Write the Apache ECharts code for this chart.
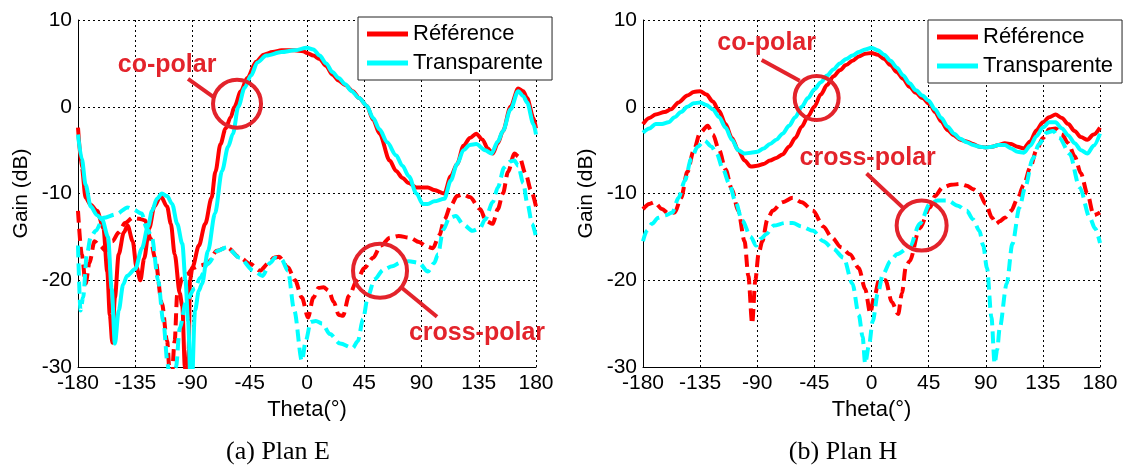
<!DOCTYPE html>
<html><head><meta charset="utf-8">
<script src="https://cdn.jsdelivr.net/npm/echarts@6/dist/echarts.min.js"></script>
<style>html,body{margin:0;padding:0;background:#fff}#c{width:1127px;height:472px}</style>
</head><body><div id="c"></div>
<script>
// ---------- DATA (theta in degrees, gain in dB) ----------
const LEGEND_NAMES = ['Référence', 'Transparente'];
const CAPTIONS = ['(a) Plan E', '(b) Plan H'];
const ANNOT_TEXT = ['co-polar', 'cross-polar'];

// Plan E, co-polar
const E_REF_CO = [[-180,-2.4],[-177,-7],[-174,-10.5],[-170,-11.3],[-165,-12],[-160,-14],[-157,-19],[-155,-24],[-153,-27.2],[-151,-22],[-148,-17],[-144,-14.5],[-141,-13.7],[-137,-15.5],[-134,-18.5],[-131,-20],[-128,-17.5],[-124,-14],[-120,-11.5],[-115,-10.3],[-110,-11.5],[-107,-13.5],[-104,-17],[-100,-21.5],[-98,-23],[-96,-30],[-94.5,-35],[-93,-28],[-92,-20],[-90,-18.5],[-85,-16],[-80,-13.5],[-75,-10.5],[-72,-7.5],[-68,-4.3],[-64,-2.5],[-60,-1.2],[-57,0],[-52,1.8],[-47,3.3],[-40,5.2],[-34,6],[-27,6.3],[-20,6.5],[-10,6.5],[-3,6.4],[0,6.2],[5,5.9],[10,5.5],[15,4.7],[20,3.7],[25,3.0],[30,2.5],[36,1.8],[41,1.0],[47,0.1],[52,-1.5],[57,-3.1],[65,-6.2],[70,-7.4],[75,-8.2],[80,-8.8],[86,-9.3],[95,-9.3],[100,-9.6],[108,-10],[113,-8],[118,-6.6],[123,-4.5],[128,-3.6],[133,-3.1],[138,-3.8],[142,-4.8],[146,-5.4],[150,-4.2],[154,-2.8],[160,0],[166,2.1],[170,1.8],[173,1],[178,-1.3],[180,-2.5]];
const E_TR_CO = [[-180,-3.2],[-177,-6],[-174,-9],[-170,-11.5],[-165,-12.5],[-161,-13],[-156.4,-15],[-153.5,-21],[-151,-27.3],[-148,-23.5],[-144.5,-20.5],[-141.5,-19.5],[-135,-18.7],[-129.7,-16.3],[-125,-13.8],[-121.8,-12],[-118,-10.6],[-114,-10],[-110,-10.3],[-106,-11.2],[-102,-13.5],[-98,-15.8],[-95.5,-20],[-93.5,-24.7],[-91,-34],[-88,-23.5],[-85,-21.2],[-82.5,-20.4],[-77.8,-16.6],[-72.3,-12.3],[-66.8,-7.4],[-62,-4.6],[-58.2,-3.1],[-54,0],[-49,2.2],[-44,3.6],[-39,5.1],[-32,5.9],[-20,6.3],[-10,6.5],[0,6.8],[5,6.6],[10,5.9],[15,5.0],[20,4.0],[25,3.3],[30,2.6],[35,1.8],[41,1.0],[47,0.1],[52,-1.3],[57,-2.6],[63,-4.1],[70,-5.6],[75,-6.8],[80,-8],[86,-10],[91,-11.2],[95,-11.2],[100,-10.9],[108,-10.6],[113,-8.5],[118,-6.6],[123,-5],[128,-4.4],[133,-4.3],[140,-5],[145,-5.4],[150,-4],[154,-2.8],[160,-0.3],[166,1.8],[170,1.2],[173,0.5],[178,-2],[180,-3.2]];
// Plan E, cross-polar
const E_REF_X = [[-180,-12],[-177,-17],[-174,-20.4],[-171,-18],[-167,-15.5],[-163,-16],[-158,-16.6],[-153,-15.5],[-148,-14.5],[-143,-13.4],[-137,-12.8],[-132,-12.9],[-127.3,-13.1],[-123,-15.2],[-119.5,-17.4],[-114,-22.7],[-110,-27],[-107,-33],[-104,-27],[-102,-21.6],[-98,-19.8],[-94,-19.3],[-89.6,-18.6],[-84,-18.3],[-78.6,-18.1],[-70.7,-16.6],[-62.9,-16.2],[-52.7,-17.4],[-44.8,-18.1],[-36.9,-18.9],[-30,-18],[-26,-17.4],[-22,-17.3],[-15,-18.5],[-9.4,-20],[-4,-22],[0.8,-24.3],[5,-22],[9,-20.9],[13,-20.8],[17,-21.2],[21,-22.5],[25,-24],[28.3,-24.1],[33,-21.8],[39.3,-20],[45,-18.6],[52,-17.4],[58,-16],[65.3,-15.1],[72,-14.9],[81,-15.1],[88,-15.6],[94,-16.1],[99,-16.3],[104,-14.8],[108,-13],[113,-11.4],[118,-10.3],[122.6,-10.1],[128,-10.4],[136,-11.8],[141,-13.2],[146,-13.5],[150,-11.8],[154,-10],[158,-7.5],[163,-5.4],[167,-5.8],[172,-7.8],[176,-9.6],[180,-11.5]];
const E_TR_X = [[-180,-16],[-178,-23.5],[-176,-22],[-173,-17],[-170,-15],[-166,-14.3],[-160,-12.8],[-150,-12.4],[-141,-11.6],[-137,-11.8],[-130,-12.3],[-126,-14],[-122,-15],[-117,-20],[-113,-24.7],[-109.5,-29.7],[-107,-34],[-103,-30],[-100,-25.5],[-95,-22.4],[-88,-20.9],[-84,-19.7],[-78,-18.1],[-70,-16.6],[-63,-16.2],[-53,-17.4],[-42,-18.9],[-35,-19.5],[-29,-18],[-25,-17.4],[-20,-17.6],[-15,-18.9],[-10,-23.5],[-4,-29.3],[-1,-27],[3,-24.8],[7,-24.7],[12,-25],[18,-26.2],[26,-27.3],[36,-27.8],[40,-27],[44,-24.5],[48,-21.8],[53,-19.9],[60,-18.8],[67,-18.4],[73,-18],[80,-17.8],[88,-18],[95,-19],[100,-18],[103,-17],[107,-14.2],[112,-12.8],[117,-12.6],[123,-13.6],[130,-14.3],[136,-14],[140,-13],[146,-11],[150,-9.3],[155,-7],[160,-6.3],[163,-6.2],[166,-6.8],[170,-8.8],[173,-11],[177,-13.5],[180,-15]];

// Plan H, co-polar
const H_REF_CO = [[-180,-2],[-175,-1.3],[-170,-0.9],[-163,-0.6],[-158,-0.3],[-152,0.5],[-145,1.3],[-140,1.7],[-135,1.8],[-130,1.4],[-125,0.6],[-120,-0.5],[-115,-2],[-110,-3.6],[-105,-5],[-100,-6.2],[-95,-6.9],[-90,-6.8],[-85,-6.6],[-80,-6.2],[-75,-5.9],[-70,-5.5],[-65,-4.6],[-60,-3.6],[-55,-2.3],[-50,-1.1],[-45,0],[-40,1.4],[-35,2.5],[-30,3.5],[-25,4.2],[-20,4.8],[-15,5.3],[-10,5.8],[-5,6.1],[0,6.2],[5,6],[10,5.5],[15,4.8],[20,4],[25,3.2],[30,2.3],[35,1.6],[40,1.0],[46,0.3],[50,-0.6],[55,-1.7],[60,-2.7],[65,-3.3],[70,-3.8],[75,-4],[80,-4.3],[85,-4.6],[90,-4.7],[95,-4.6],[100,-4.4],[105,-4.2],[110,-4.3],[115,-4.6],[120,-4.8],[125,-4],[130,-2.7],[135,-1.8],[140,-1.2],[145,-0.9],[150,-1.3],[155,-2],[160,-2.8],[165,-3.5],[170,-3.8],[175,-3.2],[180,-2.4]];
const H_TR_CO = [[-180,-3],[-175,-2.5],[-170,-2],[-165,-2],[-160,-1.8],[-155,-1.2],[-150,-0.6],[-145,0],[-140,0.4],[-135,0.5],[-130,0.2],[-125,-0.3],[-120,-1.2],[-115,-2.4],[-110,-3.8],[-105,-5],[-100,-5.4],[-95,-5.3],[-90,-5.2],[-85,-4.8],[-80,-4.3],[-75,-3.8],[-70,-3.1],[-65,-2.2],[-60,-1.2],[-55,0],[-50,1.0],[-45,2],[-40,2.8],[-35,3.6],[-30,4.3],[-25,5],[-20,5.5],[-15,5.9],[-10,6.3],[-5,6.6],[0,6.8],[5,6.5],[10,6],[15,5.3],[20,4.5],[25,3.6],[30,2.7],[35,1.9],[40,1.3],[45,0.7],[50,-0.3],[55,-1.3],[60,-2.3],[65,-3.1],[70,-3.7],[75,-4.1],[80,-4.4],[85,-4.6],[90,-4.7],[95,-4.6],[100,-4.4],[105,-4.4],[110,-4.8],[115,-5.2],[120,-5.3],[125,-4.5],[130,-3.4],[135,-2.4],[140,-1.8],[145,-1.8],[150,-2.5],[155,-3.3],[160,-4.2],[165,-5],[170,-5.4],[175,-4.5],[180,-3.1]];
// Plan H, cross-polar
const H_REF_X = [[-180,-11.8],[-175,-11.2],[-171,-11],[-165,-11.8],[-160,-12.3],[-155,-12.2],[-150,-10.5],[-145,-7.5],[-140,-5],[-135,-3],[-129,-2.2],[-125,-3.2],[-120,-5],[-115,-7.2],[-110,-9.5],[-105,-12],[-100,-15.5],[-97,-19.5],[-94,-25],[-91.5,-20],[-89,-17],[-86,-15.5],[-82,-13],[-78,-12],[-70,-11],[-62,-10.5],[-55,-11],[-46,-12],[-38,-13.8],[-31,-15.1],[-24,-16.2],[-17,-17],[-10,-18.6],[-5,-21],[-1,-23.8],[2,-22],[6,-20],[11,-20],[16,-22.5],[21,-23.9],[24,-21.5],[27,-18.5],[30,-17.8],[38,-14],[46,-11.6],[50,-10.3],[56,-9.3],[63,-9],[70,-8.9],[75,-9.1],[80,-9.5],[85,-10],[90,-11.2],[95,-12.8],[98,-13.5],[101,-13.2],[105,-12.8],[110,-12],[115,-10.6],[120,-9],[125,-7],[130,-5],[135,-3.6],[140,-2.6],[145,-2.5],[150,-3.2],[155,-4.2],[160,-5.7],[165,-7.7],[170,-10],[175,-12.5],[180,-12.2]];
const H_TR_X = [[-180,-15.5],[-177,-14.3],[-173,-13.5],[-168,-12.8],[-162,-12.5],[-157,-12.2],[-152,-10.5],[-147,-8.5],[-142,-6],[-137,-4.6],[-131.5,-3.9],[-126,-4.6],[-122,-5.4],[-117,-7.2],[-112,-8.9],[-107,-11],[-102,-13.1],[-95,-15],[-91,-16],[-87,-15.2],[-83,-14.7],[-77,-13.7],[-68,-13.4],[-62,-13.4],[-55,-13.8],[-46,-14.3],[-38,-15.5],[-30,-16.4],[-22,-17.4],[-15,-20.4],[-10,-24],[-7,-26.5],[-5,-29.6],[-2,-27.5],[1,-24.7],[5,-21.5],[9,-19.3],[15,-17.8],[20,-17],[30,-16.2],[38,-13.5],[46,-11.2],[52,-10.8],[60,-10.8],[68,-11.4],[75,-12],[80,-13],[85,-14.3],[88,-16],[91,-18.6],[94.5,-24.3],[97,-29.6],[99,-28],[101,-25.5],[106.5,-20.4],[111,-15.8],[116.6,-11.6],[121,-9.3],[127,-6],[132,-4.3],[138,-3],[143,-2.8],[148,-3.6],[156,-5.4],[164,-9.3],[172,-12.8],[176,-14],[180,-15.7]];

// ---------- CHART ----------
const RED = '#ff0000', CYAN = '#00ffff', ANN = '#e3232b';
const FONT = "'Liberation Sans', Arial, sans-serif";
const chart = echarts.init(document.getElementById('c'), null, {renderer: 'canvas'});

function mkSeries(name, data, color, dashed, g, z) {
  return {
    type: 'line', name: name, data: data, xAxisIndex: g, yAxisIndex: g,
    symbol: 'none', showSymbol: false, smooth: 0.3, smoothMonotone: 'x', clip: true,
    silent: true, z: z,
    lineStyle: {color: color, width: 4, type: dashed ? [12, 6] : 'solid', cap: 'butt'},
    itemStyle: {color: color}
  };
}
function mkX(g) {
  return {
    type: 'value', gridIndex: g, min: -180, max: 180, interval: 45,
    name: 'Theta(°)', nameLocation: 'middle', nameGap: 27,
    nameTextStyle: {fontSize: 22, fontFamily: FONT, color: '#000'},
    axisLine: {show: true, onZero: false, lineStyle: {color: '#000', width: 1}},
    axisTick: {show: false},
    axisLabel: {fontSize: 21, fontFamily: FONT, color: '#000', margin: 6},
    splitLine: {show: true, lineStyle: {color: '#000', width: 1, type: [2, 3]}}
  };
}
function mkY(g) {
  return {
    type: 'value', gridIndex: g, min: -30, max: 10, interval: 10,
    name: 'Gain (dB)', nameLocation: 'middle', nameGap: 46,
    nameTextStyle: {fontSize: 21, fontFamily: FONT, color: '#000'},
    axisLine: {show: true, onZero: false, lineStyle: {color: '#000', width: 1}},
    axisTick: {show: false},
    axisLabel: {fontSize: 21, fontFamily: FONT, color: '#000', margin: 6},
    splitLine: {show: true, lineStyle: {color: '#000', width: 1, type: [2, 3]}}
  };
}
function mkLegend(left, top) {
  return {
    orient: 'vertical', left: left, top: top, selectedMode: false,
    padding: [6, 9, 6, 9], itemGap: 7, itemWidth: 41, itemHeight: 5,
    backgroundColor: '#fff', borderColor: '#222', borderWidth: 1, borderRadius: 0,
    textStyle: {fontSize: 22, fontFamily: FONT, color: '#000', lineHeight: 22},
    data: [
      {name: LEGEND_NAMES[0], icon: 'rect', itemStyle: {color: RED}},
      {name: LEGEND_NAMES[1], icon: 'rect', itemStyle: {color: CYAN}}
    ]
  };
}

const option = {
  animation: false,
  backgroundColor: '#fff',
  grid: [
    {left: 78, top: 20, width: 458, height: 347},
    {left: 643, top: 20, width: 457, height: 347}
  ],
  xAxis: [mkX(0), mkX(1)],
  yAxis: [mkY(0), mkY(1)],
  legend: [mkLegend(358, 17), mkLegend(928, 20)],
  series: [
    mkSeries(LEGEND_NAMES[0], E_REF_CO, RED, false, 0, 2),
    mkSeries(LEGEND_NAMES[1], E_TR_CO, CYAN, false, 0, 3),
    mkSeries(LEGEND_NAMES[0], E_REF_X, RED, true, 0, 2),
    mkSeries(LEGEND_NAMES[1], E_TR_X, CYAN, true, 0, 3),
    mkSeries(LEGEND_NAMES[0], H_REF_CO, RED, false, 1, 2),
    mkSeries(LEGEND_NAMES[1], H_TR_CO, CYAN, false, 1, 3),
    mkSeries(LEGEND_NAMES[0], H_REF_X, RED, true, 1, 2),
    mkSeries(LEGEND_NAMES[1], H_TR_X, CYAN, true, 1, 3)
  ]
};
chart.setOption(option);

// ---------- annotations (anchored in data coordinates) ----------
function px(g, p) { return chart.convertToPixel({gridIndex: g}, p); }
const annots = [
  {g: 0, t: ANNOT_TEXT[0], at: [-110, 4.8], c: [-55, 0.35], r: 24, l: [[-93.5, 3.2], [-72.3, 1.0]]},
  {g: 0, t: ANNOT_TEXT[1], at: [133.6, -26.1], c: [57.4, -18.9], r: 27, l: [[74.7, -20.9], [102.2, -24.2]]},
  {g: 1, t: ANNOT_TEXT[0], at: [-82.6, 7.3], c: [-43.2, 1.0], r: 22, l: [[-86.5, 5.4], [-56.6, 3.0]]},
  {g: 1, t: ANNOT_TEXT[1], at: [-3, -5.9], c: [39.5, -13.7], r: 25, l: [[-3.9, -7.7], [26, -11.8]]}
];
const graphics = [];
annots.forEach(function (a) {
  const tp = px(a.g, a.at), cp = px(a.g, a.c), l0 = px(a.g, a.l[0]), l1 = px(a.g, a.l[1]);
  graphics.push({type: 'line', z: 100, shape: {x1: l0[0], y1: l0[1], x2: l1[0], y2: l1[1]},
    style: {stroke: ANN, lineWidth: 4, lineCap: 'butt'}});
  graphics.push({type: 'circle', z: 100, shape: {cx: cp[0], cy: cp[1], r: a.r},
    style: {fill: 'none', stroke: ANN, lineWidth: 4}});
  graphics.push({type: 'text', z: 100, x: tp[0], y: tp[1],
    style: {text: a.t, fill: ANN, font: "bold 25px 'Liberation Sans', Arial, sans-serif",
      align: 'center', verticalAlign: 'middle'}});
});
graphics.push({type: 'text', x: 278, y: 452, style: {text: CAPTIONS[0], fill: '#000',
  font: "26px 'Liberation Serif', 'DejaVu Serif', serif", align: 'center', verticalAlign: 'middle'}});
graphics.push({type: 'text', x: 843, y: 452, style: {text: CAPTIONS[1], fill: '#000',
  font: "26px 'Liberation Serif', 'DejaVu Serif', serif", align: 'center', verticalAlign: 'middle'}});
chart.setOption({graphic: graphics});
</script>
</body></html>
